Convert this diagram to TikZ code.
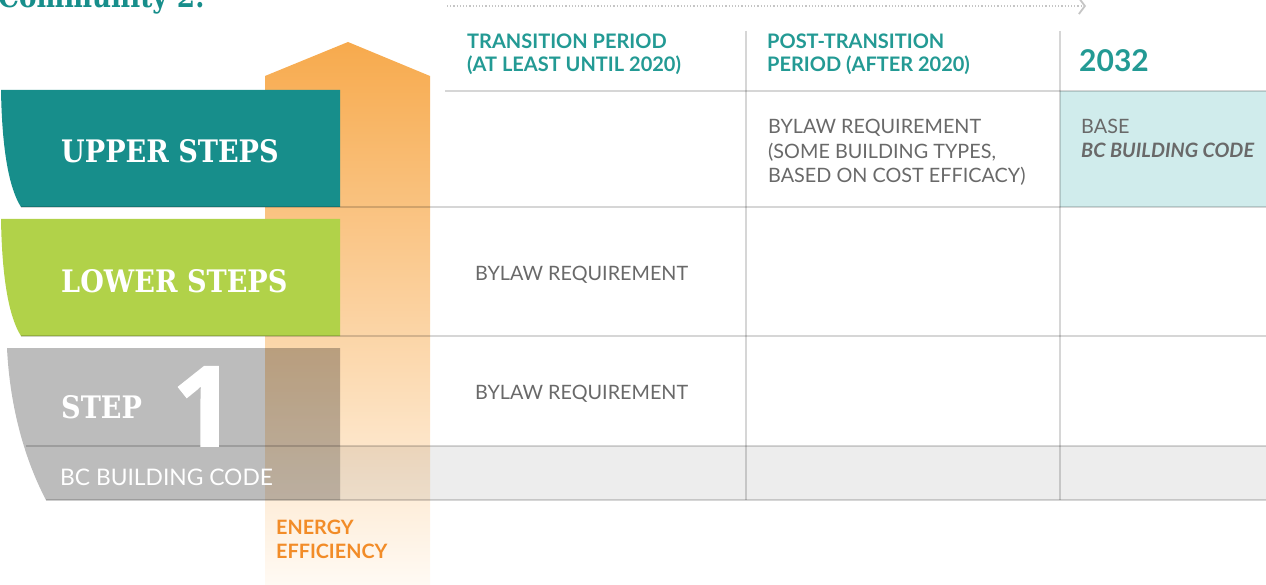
\documentclass[tikz,border=0pt]{standalone}
\usepackage{fontspec}
\setmainfont{Lato}
\newfontfamily\slab[FakeStretch=0.875]{DejaVu Serif}
\newfontfamily\bignum[FakeBold=1.5]{Open Sans}
\usetikzlibrary{positioning, arrows.meta}

\definecolor{bandteal}{RGB}{23,142,139}
\definecolor{bandlime}{RGB}{177,210,73}
\definecolor{bandgrey}{RGB}{188,188,188}
\definecolor{headteal}{RGB}{35,154,148}
\definecolor{cellgrey}{RGB}{105,105,105}
\definecolor{baseteal}{RGB}{208,236,236}
\definecolor{rowgrey}{RGB}{237,237,237}
\definecolor{linegrey}{RGB}{214,214,214}
\definecolor{arrowtop}{RGB}{247,170,77}
\definecolor{arrowbot}{RGB}{255,250,244}
\definecolor{effitext}{RGB}{242,140,40}

\begin{document}
\begin{tikzpicture}[x=1pt,y=-1pt,
  steptext/.style={anchor=base west, inner sep=0pt, text=white,
    font=\slab\bfseries\fontsize{31}{31}\selectfont},
  headtext/.style={anchor=base west, inner sep=0pt, align=left, text=headteal,
    font=\bfseries\fontsize{20}{23}\selectfont},
  celltext/.style={anchor=base west, inner sep=0pt, align=left, text=cellgrey,
    font=\fontsize{19.8}{24.5}\selectfont},
  gridline/.style={linegrey, line width=1.5pt, blend mode=multiply}]
  \useasboundingbox (0,0) rectangle (1266,585);

  % タイトル (上で切れている)
  \node[anchor=base west, inner sep=0pt, text=bandteal,
    font=\slab\bfseries\fontsize{30}{30}\selectfont] (title) at (-2,8) {Community 2:};

  % 時間の矢印
  \coordinate (tstart) at (447,6);
  \coordinate (tend) at (1086,6);
  \draw[linegrey!80!gray, line width=1.2pt, dotted,
    -{Straight Barb[length=6pt, width=16pt, line width=1.8pt]}] (tstart) -- (tend);

  % エネルギー効率の矢印
  \shade[top color=arrowtop, bottom color=arrowbot]
    (265,585) -- (265,76) -- (348,42) -- (430,76) -- (430,585) -- cycle;

  % 帯
  \fill[bandteal] (1,90) -- (340,90) -- (340,207) -- (21,207)
    .. controls (9,188) and (2,150) .. (1,90) -- cycle;
  \fill[bandlime] (1,219) -- (340,219) -- (340,336) -- (21,336)
    .. controls (9,317) and (2,279) .. (1,219) -- cycle;
  \fill[bandgrey, blend mode=multiply] (7,348) -- (340,348) -- (340,500) -- (46,500)
    .. controls (26,462) and (10,410) .. (7,348) -- cycle;

  % 表の塗り
  \fill[baseteal] (1060,91) rectangle (1266,207);
  \fill[rowgrey, blend mode=multiply] (340,446) rectangle (1266,500);

  % 罫線
  \draw[gridline, line width=2pt] (445,91) -- (1266,91);
  \draw[gridline] (21,207) -- (1266,207);
  \draw[gridline] (21,336) -- (1266,336);
  \draw[gridline, line width=2pt] (26,446) -- (1266,446);
  \draw[gridline, line width=2pt] (46,500) -- (1266,500);
  \foreach \x in {746,1060} {
    \draw[gridline] (\x,31) -- (\x,500);
  }

  % 帯の文字
  \node[steptext] (upper) at (61,163) {UPPER STEPS};
  \node[steptext] (lower) at (61,293) {LOWER STEPS};
  \node[steptext] (step) at (61,418) {STEP};
  \node[anchor=base west, inner sep=0pt, text=white,
    font=\bignum\bfseries\fontsize{111}{111}\selectfont] (one) at (172,446) {1};
  \node[anchor=base west, inner sep=0pt, text=white,
    font=\fontsize{22.8}{22.8}\selectfont] (bccode) at (60,485) {BC BUILDING CODE};

  % 見出し (基点は最後の行)
  \node[headtext] (trans) at (467,72) {TRANSITION PERIOD\\(AT LEAST UNTIL 2020)};
  \node[headtext] (post) at (767,72) {POST-TRANSITION\\PERIOD (AFTER 2020)};
  \node[anchor=base west, inner sep=0pt, text=headteal,
    font=\bfseries\fontsize{30}{30}\selectfont] (year) at (1079,72) {2032};

  % セル
  \node[celltext] (postup) at (768,183)
    {BYLAW REQUIREMENT\\(SOME BUILDING TYPES,\\BASED ON COST EFFICACY)};
  \node[celltext] (base) at (1081,158)
    {BASE\\\textbf{\textit{BC BUILDING CODE}}};
  \node[celltext] (translow) at (475,281) {BYLAW REQUIREMENT};
  \node[celltext] (transstep) at (475,399) {BYLAW REQUIREMENT};

  % 矢印の文字
  \node[anchor=base west, inner sep=0pt, align=left, text=effitext,
    font=\bfseries\fontsize{19.8}{24}\selectfont] (effi) at (276,558) {ENERGY\\EFFICIENCY};
\end{tikzpicture}
\end{document}
